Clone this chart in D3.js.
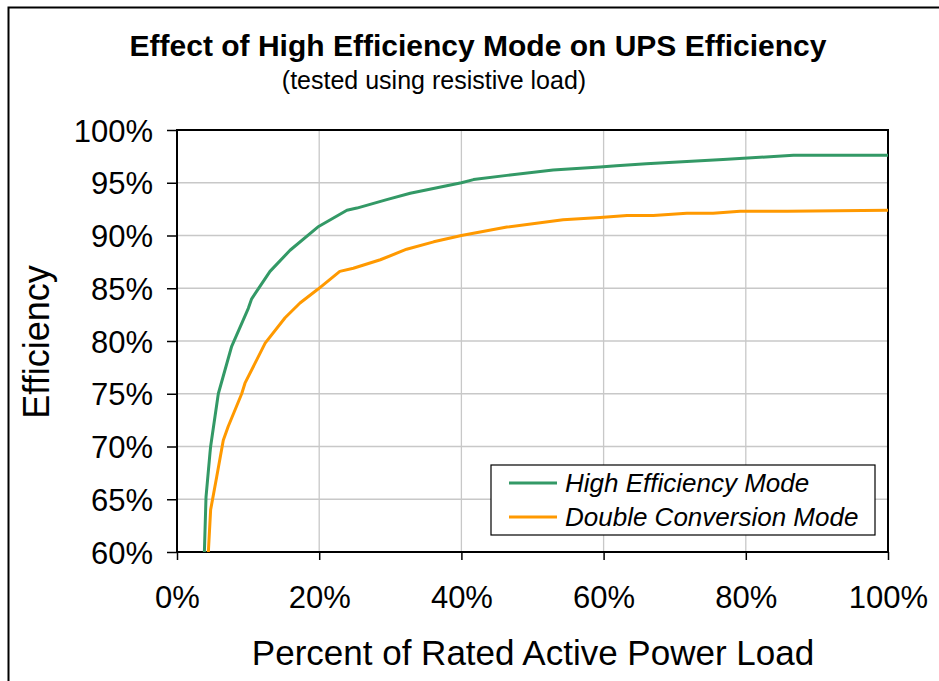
<!DOCTYPE html>
<html>
<head>
<meta charset="utf-8">
<script src="https://cdn.jsdelivr.net/npm/d3@7"></script>
<style>
  body { margin: 0; background: #fff; }
  text { font-family: "Liberation Sans", Arial, sans-serif; fill: #000; }
</style>
</head>
<body>
<div id="chart"></div>
<script>
// load (% of rated power) and efficiency (%)
var highLoad = [3.85, 4.08, 4.64, 4.73, 5.81, 7.69, 10.03, 10.5, 13.08, 15.9, 19.8, 23.9, 25.3, 29.5, 32.8, 40.0, 41.7, 46.4, 52.9, 59.5, 61.8, 66.0, 76.8, 86.7, 100];
var highEff  = [60, 65.2, 69.4, 70.0, 75.0, 79.5, 83.1, 84.0, 86.6, 88.6, 90.8, 92.4, 92.6, 93.4, 94.0, 95.0, 95.3, 95.7, 96.2, 96.5, 96.6, 96.8, 97.2, 97.6, 97.6];
var dblLoad  = [4.41, 4.73, 5.58, 6.51, 7.2, 9.1, 9.56, 12.4, 15.2, 17.3, 19.8, 22.9, 24.8, 28.6, 32.3, 36.1, 40.0, 46.4, 54.3, 59.5, 63.3, 67.0, 71.7, 75.4, 79.2, 85.8, 100];
var dblEff   = [60, 64.0, 67.1, 70.6, 71.9, 75.0, 76.0, 79.8, 82.2, 83.6, 84.9, 86.6, 86.9, 87.7, 88.7, 89.4, 90.0, 90.8, 91.5, 91.7, 91.9, 91.9, 92.1, 92.1, 92.3, 92.3, 92.4];
var seriesNames = ["High Efficiency Mode", "Double Conversion Mode"];
var seriesColors = ["#339966", "#ff9900"];
var xTicks = [0, 20, 40, 60, 80, 100];
var yTicks = [60, 65, 70, 75, 80, 85, 90, 95, 100];

var W = 939, H = 681;
var margin = { left: 177, top: 130, right: 939 - 888, bottom: 681 - 552 };
var w = W - margin.left - margin.right,
    h = H - margin.top - margin.bottom;

var svg = d3.select("#chart").append("svg").attr("width", W).attr("height", H);

// outer frame (runs off the right and bottom edges)
svg.append("path").attr("d", "M8.5," + (H + 5) + "V7.5H" + (W + 5))
  .attr("fill", "none").attr("stroke", "#000").attr("stroke-width", 2);

var x = d3.scaleLinear().domain([0, 100]).range([0, w]);
var y = d3.scaleLinear().domain([60, 100]).range([h, 0]);

var g = svg.append("g").attr("transform", "translate(" + margin.left + "," + margin.top + ")");

// grid
g.append("g").selectAll("line.hg").data(yTicks).enter().append("line")
  .attr("x1", 0).attr("x2", w).attr("y1", d => y(d)).attr("y2", d => y(d))
  .attr("stroke", "#c8c8c8").attr("stroke-width", 1.3);
g.append("g").selectAll("line.vg").data(xTicks).enter().append("line")
  .attr("y1", 0).attr("y2", h).attr("x1", d => x(d)).attr("x2", d => x(d))
  .attr("stroke", "#c8c8c8").attr("stroke-width", 1.3);

// axes
var yAxis = d3.axisLeft(y).tickValues(yTicks).tickSize(10).tickPadding(14).tickFormat(d => d + "%");
var xAxis = d3.axisBottom(x).tickValues(xTicks).tickSize(8).tickPadding(26).tickFormat(d => d + "%");
var ya = g.append("g").call(yAxis);
var xa = g.append("g").attr("transform", "translate(0," + h + ")").call(xAxis);
[ya, xa].forEach(function(a) {
  a.select(".domain").remove();
  a.selectAll(".tick line").attr("stroke", "#000").attr("stroke-width", 1.5);
  a.selectAll(".tick text").attr("font-size", 31).attr("font-family", "Liberation Sans, Arial, sans-serif").attr("fill", "#000");
});
ya.selectAll(".tick text").attr("dy", "0.36em");

// plot frame
g.append("rect").attr("width", w).attr("height", h)
  .attr("fill", "none").attr("stroke", "#000").attr("stroke-width", 2);

// lines
var line = d3.line().x(d => x(d[0])).y(d => y(d[1]));
var seriesData = [d3.zip(highLoad, highEff), d3.zip(dblLoad, dblEff)];
g.selectAll("path.series").data(seriesData).enter().append("path")
  .attr("class", "series")
  .attr("d", line)
  .attr("fill", "none")
  .attr("stroke", (d, i) => seriesColors[i])
  .attr("stroke-width", 3)
  .attr("stroke-linejoin", "round");

// legend
var lg = svg.append("g").attr("transform", "translate(491,465)");
lg.append("rect").attr("width", 384).attr("height", 70)
  .attr("fill", "#fff").attr("stroke", "#000").attr("stroke-width", 1.2);
seriesNames.forEach(function(name, i) {
  var cy = 18 + i * 34;
  lg.append("line").attr("x1", 18).attr("x2", 66).attr("y1", cy).attr("y2", cy)
    .attr("stroke", seriesColors[i]).attr("stroke-width", 3);
  lg.append("text").attr("x", 74).attr("y", cy).attr("dy", "0.36em")
    .attr("font-size", 26).attr("font-style", "italic").text(name);
});

// titles
svg.append("text").attr("x", 478).attr("y", 56).attr("text-anchor", "middle")
  .attr("font-size", 30).attr("font-weight", "bold")
  .text("Effect of High Efficiency Mode on UPS Efficiency");
svg.append("text").attr("x", 434).attr("y", 89).attr("text-anchor", "middle")
  .attr("font-size", 25).text("(tested using resistive load)");
svg.append("text").attr("x", 533).attr("y", 665).attr("text-anchor", "middle")
  .attr("font-size", 35).text("Percent of Rated Active Power Load");
svg.append("text").attr("transform", "translate(49,342) rotate(-90)").attr("text-anchor", "middle")
  .attr("font-size", 36).text("Efficiency");
</script>
</body>
</html>
